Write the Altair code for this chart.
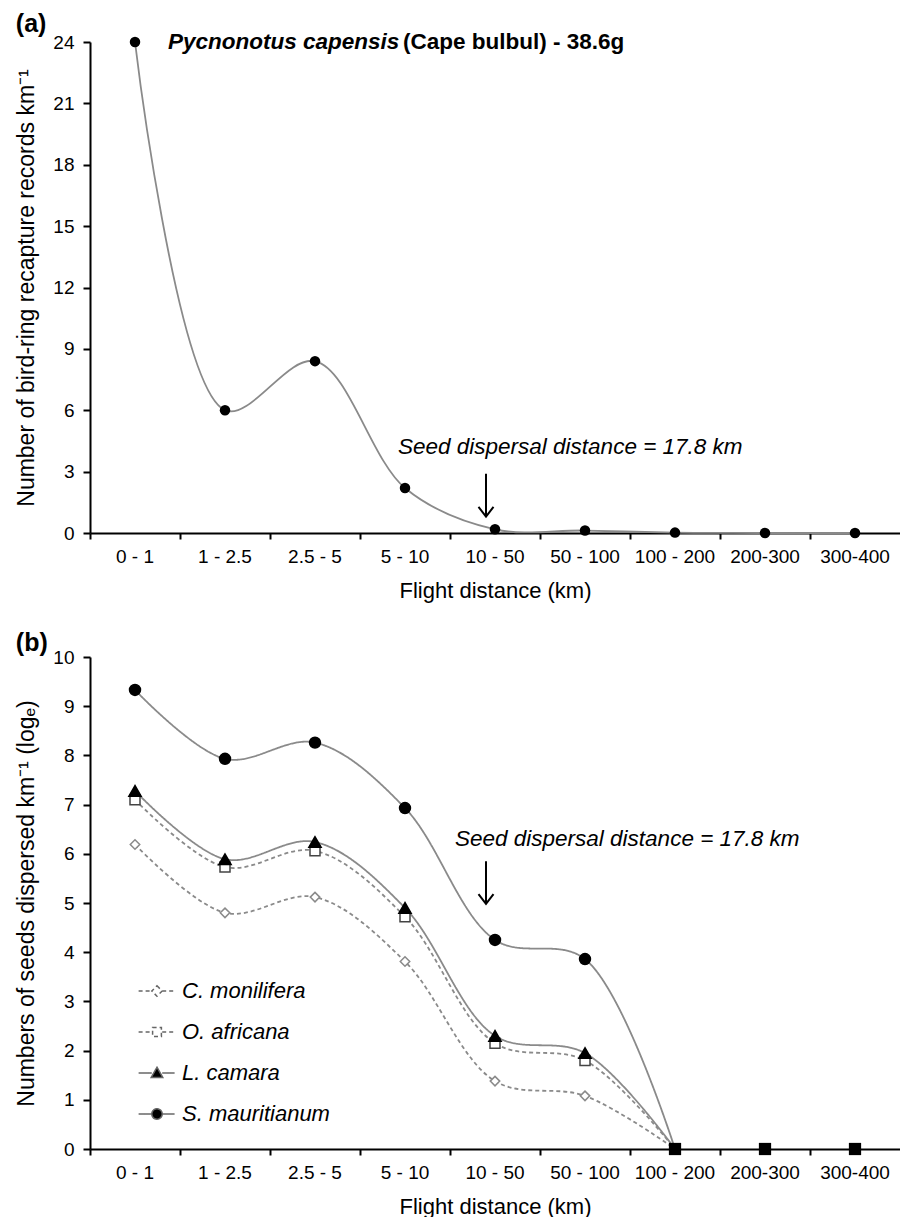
import altair as alt
import pandas as pd

# ---------------- data ----------------
categories = ["0 - 1", "1 - 2.5", "2.5 - 5", "5 - 10", "10 - 50",
              "50 - 100", "100 - 200", "200-300", "300-400"]

# panel (a): bird-ring recapture records per km
bulbul_records = [24.0, 6.0, 8.4, 2.2, 0.18, 0.12, 0.02, 0.0, 0.0]

# panel (b): seeds dispersed per km (log e), categories 0-1 ... 100-200
series_names = ["C. monilifera", "O. africana", "L. camara", "S. mauritianum"]
monilifera = [6.19, 4.80, 5.12, 3.81, 1.38, 1.08, 0.0]
africana = [7.10, 5.73, 6.06, 4.72, 2.15, 1.80, 0.0]
camara = [7.28, 5.89, 6.24, 4.90, 2.30, 1.95, 0.0]
mauritianum = [9.33, 7.93, 8.26, 6.93, 4.25, 3.86, 0.0]
zero_categories = ["100 - 200", "200-300", "300-400"]
zero_values = [0.0, 0.0, 0.0]

y_ticks_a = list(range(0, 25, 3))
y_ticks_b = list(range(0, 11))

species_name = "Pycnonotus capensis"
species_rest = "(Cape bulbul) - 38.6g"
seed_label = "Seed dispersal distance = 17.8 km"
arrow_category = "10 - 50"
arrow_a = (2.9, 0.8, 4.2)   # arrow top, arrow tip, label y  (panel a)
arrow_b = (5.85, 4.98, 6.3)  # panel b

# ---------------- styling ----------------
FONT = "Liberation Sans"
GRAY = "#8a8a8a"
W = 810
HA = 491
HB = 492
marker_shapes = ["diamond", "square", "triangle-up", "circle"]
marker_fills = ["white", "white", "black", "black"]
marker_strokes = ["#8a8a8a", "#444444", "black", "black"]
marker_sizes = [90, 100, 150, 120]
line_dashes = [[4, 3], [4, 3], [1, 0], [1, 0]]

df_a = pd.DataFrame({"category": categories, "value": bulbul_records,
                     "idx": list(range(len(categories)))})
rows = []
for name, vals in zip(series_names, [monilifera, africana, camara, mauritianum]):
    for i, v in enumerate(vals):
        rows.append({"series": name, "legend_name": name, "category": categories[i],
                     "value": v, "idx": i})
df_b = pd.DataFrame(rows)
df_zero = pd.DataFrame({"category": zero_categories, "value": zero_values})


def x_enc():
    return alt.X(
        "category:N",
        scale=alt.Scale(type="band", domain=categories, paddingInner=0, paddingOuter=0),
        axis=alt.Axis(title="Flight distance (km)", labelAngle=0, bandPosition=0,
                      tickSize=6, labelPadding=8, titlePadding=14,
                      domainWidth=2, tickWidth=2, domainColor="black", tickColor="black",
                      labelFontSize=19, titleFontSize=22, labelColor="black",
                      titleColor="black", titleFontWeight="normal", labelFont=FONT,
                      titleFont=FONT, grid=False),
    )


def y_enc(title, ticks, dom):
    return alt.Y(
        "value:Q",
        scale=alt.Scale(domain=dom, nice=False, zero=True),
        axis=alt.Axis(title=title, values=ticks, tickSize=7, labelPadding=9,
                      titlePadding=14, domainWidth=2, tickWidth=2, domainColor="black",
                      tickColor="black", labelFontSize=19, titleFontSize=23,
                      labelColor="black", titleColor="black", titleFontWeight="normal",
                      labelFont=FONT, titleFont=FONT, grid=False),
    )


def arrow_layers(vals):
    top, tip, _ = vals
    d = pd.DataFrame({"category": [arrow_category], "top": [top], "tip": [tip]})
    shaft = alt.Chart(d).mark_rule(color="black", strokeWidth=2, xOffset=-9).encode(
        x=alt.X("category:N"), y=alt.Y("top:Q"), y2=alt.Y2("tip:Q"))
    head = alt.Chart(d).mark_point(shape="M-1,-1.3L0,0L1,-1.3", filled=False,
                                   stroke="black", strokeWidth=2, size=225,
                                   opacity=1, xOffset=-9).encode(
        x=alt.X("category:N"), y=alt.Y("tip:Q"))
    return shaft + head


def seed_text(vals, dx):
    d = pd.DataFrame({"category": [arrow_category], "y": [vals[2]], "t": [seed_label]})
    return alt.Chart(d).mark_text(align="left", baseline="middle", fontStyle="italic",
                                  fontSize=22.5, font=FONT, color="black", dx=dx).encode(
        x=alt.X("category:N"), y=alt.Y("y:Q"), text="t:N")


# ---------------- panel (a) ----------------
base_a = alt.Chart(df_a).encode(
    x=x_enc(), y=y_enc("Number of bird-ring recapture records km⁻¹", y_ticks_a, [0, 24]))
line_a = base_a.mark_line(interpolate="catmull-rom", color=GRAY, strokeWidth=1.8).encode(
    order="idx:Q")
pts_a = base_a.mark_circle(size=110, color="black", opacity=1)

title_df = pd.DataFrame({"category": [categories[0]], "value": [bulbul_records[0]],
                         "t1": [species_name], "t2": [species_rest]})
t1 = alt.Chart(title_df).mark_text(align="left", baseline="middle", fontStyle="italic",
                                   fontWeight="bold", fontSize=22.5, font=FONT,
                                   color="black", dx=33).encode(
    x=alt.X("category:N"), y=alt.Y("value:Q"), text="t1:N")
t2 = alt.Chart(title_df).mark_text(align="left", baseline="middle", fontWeight="bold",
                                   fontSize=22.5, font=FONT, color="black", dx=268).encode(
    x=alt.X("category:N"), y=alt.Y("value:Q"), text="t2:N")

panel_a = alt.layer(line_a, pts_a, arrow_layers(arrow_a), seed_text(arrow_a, -97),
                    t1, t2).properties(
    width=W, height=HA,
    title=alt.TitleParams("(a)", anchor="start", fontSize=25, fontWeight="bold",
                          font=FONT, color="black", offset=-6))

# ---------------- panel (b) ----------------
dash_scale = alt.Scale(domain=series_names, range=line_dashes)

stub = "M-2.3,0L-0.65,0M0.65,0L2.2,0"
p_diamond = stub + "M0,-0.65L0.65,0L0,0.65L-0.65,0Z"
p_square = stub + "M-0.55,-0.55L0.55,-0.55L0.55,0.55L-0.55,0.55Z"
p_triangle = stub + "M0,-0.72L0.72,0.55L-0.72,0.55Z"
p_circle = stub + "M-0.65,0A0.65,0.65 0 1,0 0.65,0A0.65,0.65 0 1,0 -0.65,0Z"
shape_expr = ("datum.value === 'C. monilifera' ? '" + p_diamond + "' : "
              "datum.value === 'O. africana' ? '" + p_square + "' : "
              "datum.value === 'L. camara' ? '" + p_triangle + "' : '" + p_circle + "'")
fill_expr = "(datum.value === 'C. monilifera' || datum.value === 'O. africana') ? 'white' : 'black'"

legend_b = alt.Legend(
    title=None, orient="none", legendX=56, legendY=938, padding=0,
    labelFontSize=22, labelFontStyle="italic", labelFont=FONT, labelColor="black",
    symbolSize=256, labelOffset=14, rowPadding=19,
    symbolType=alt.ExprRef(expr=shape_expr),
    symbolFillColor=alt.ExprRef(expr=fill_expr),
    symbolStrokeColor="#666666", symbolStrokeWidth=1.5, symbolOpacity=1)

base_b = alt.Chart(df_b).encode(
    x=x_enc(), y=y_enc("Numbers of seeds dispersed  km⁻¹ (logₑ)", y_ticks_b, [0, 10]))
line_b = base_b.mark_line(interpolate="catmull-rom", color=GRAY, strokeWidth=1.8).encode(
    detail="series:N",
    strokeDash=alt.StrokeDash("legend_name:N", scale=dash_scale, legend=legend_b),
    order="idx:Q")

point_layers = []
for name, shp, fl, st, sz in zip(series_names, marker_shapes, marker_fills,
                                 marker_strokes, marker_sizes):
    point_layers.append(
        base_b.transform_filter(
            (alt.datum.series == name) & (alt.datum.value > 0)
        ).mark_point(shape=shp, fill=fl, stroke=st, size=sz, opacity=1,
                     fillOpacity=1, strokeWidth=1.5))

zero_b = alt.Chart(df_zero).mark_square(color="black", size=150, opacity=1).encode(
    x=alt.X("category:N"), y=alt.Y("value:Q"))

panel_b = alt.layer(line_b, *point_layers, zero_b, arrow_layers(arrow_b),
                    seed_text(arrow_b, -40)).properties(
    width=W, height=HB,
    title=alt.TitleParams("(b)", anchor="start", fontSize=25, fontWeight="bold",
                          font=FONT, color="black", offset=-8))

chart = alt.vconcat(panel_a, panel_b, spacing=30).configure_view(stroke=None).properties(
    padding={"left": 7, "top": 4, "right": 0, "bottom": 0}, background="white")

chart.save("out.html", embed_options={"renderer": "svg", "actions": False})
